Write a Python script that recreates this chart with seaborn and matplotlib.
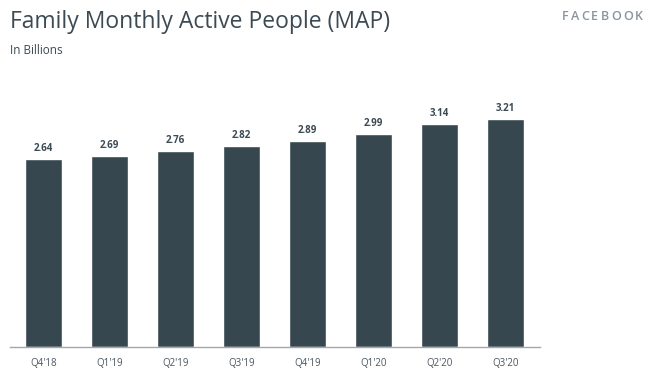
import seaborn as sns
import matplotlib.pyplot as plt

quarters = ["Q4'18", "Q1'19", "Q2'19", "Q3'19", "Q4'19", "Q1'20", "Q2'20", "Q3'20"]
map_billions = [2.64, 2.69, 2.76, 2.82, 2.89, 2.99, 3.14, 3.21]

bar_color = "#37474f"
text_color = "#3c4a54"

sns.set_style("white")
plt.rcParams['font.family'] = ['Open Sans', 'DejaVu Sans']

fig = plt.figure(figsize=(6.6, 3.77), dpi=100)
ax = fig.add_axes([0.015, 0.0796, 0.803, 0.668])

sns.barplot(x=quarters, y=map_billions, ax=ax, color=bar_color, width=0.56, saturation=1)

for i, v in enumerate(map_billions):
    ax.text(i, v + 0.07, f"{v:.2f}", ha="center", va="bottom", fontsize=7, weight="bold", color=text_color)

ax.set_ylim(0, 3.54)
ax.set_xlim(-0.51, 7.52)
ax.set_yticks([])
ax.set_xlabel("")
ax.set_ylabel("")
for s in ["top", "right", "left"]:
    ax.spines[s].set_visible(False)
ax.spines["bottom"].set_color("#a0a8ae")
ax.spines["bottom"].set_linewidth(1)
ax.tick_params(axis="x", length=0, pad=8, labelsize=7, labelcolor="#4a5560")

fig.text(0.015, 0.942, "Family Monthly Active People (MAP)", fontsize=16.5, color=text_color, va="center")
fig.text(0.015, 0.865, "In Billions", fontsize=8.5, color=text_color, va="center")

# logo text with letter spacing
fig.canvas.draw()
renderer = fig.canvas.get_renderer()
x = 562
for ch in "FACEBOOK":
    t = fig.text(x / 660, 0.957, ch, fontsize=9, weight="semibold", color="#8a949e", va="center")
    w = t.get_window_extent(renderer).width
    x += w + 2.2

fig.savefig("out.png", dpi=100)
